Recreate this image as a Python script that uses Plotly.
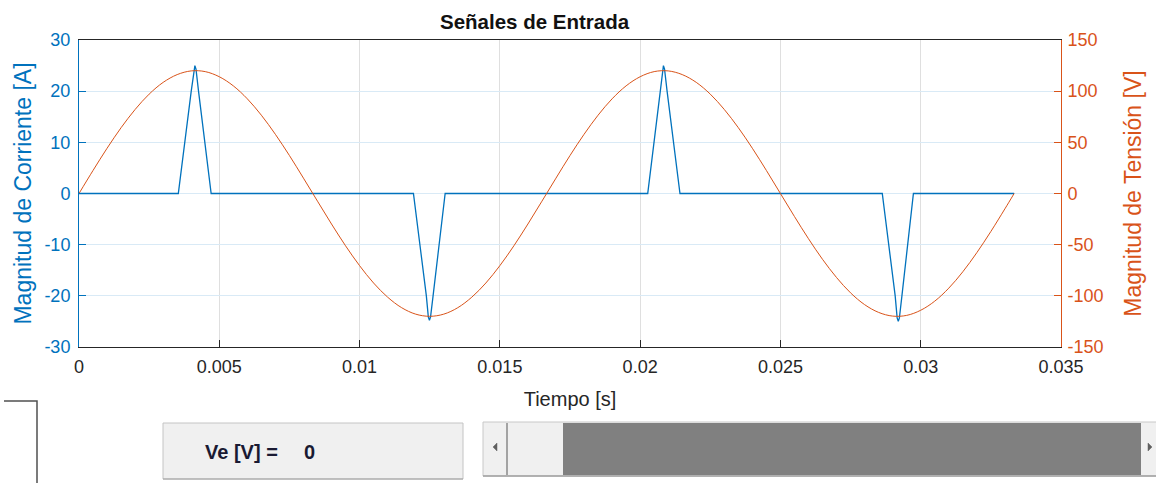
import plotly.graph_objects as go

# ---------------- data ----------------
# Voltage (V) sampled every 0.5 ms, plus final point at end of 2 cycles
v_step = 0.0005
v_values = [0, 22.5, 44.2, 64.3, 82.1, 97.1, 108.6, 116.2, 119.8, 119.1, 114.1,
            105.2, 92.5, 76.5, 57.8, 37.1, 15.0, -7.5, -29.8, -51.1, -70.5,
            -87.5, -101.3, -111.6, -117.9, -120.0, -117.9, -111.6, -101.3, -87.5,
            -70.5, -51.1, -29.8, -7.5, 15.0, 37.1, 57.8, 76.5, 92.5, 105.2, 114.1,
            119.1, 119.8, 116.2, 108.6, 97.1, 82.1, 64.3, 44.2, 22.5, 0.0, -22.5,
            -44.2, -64.3, -82.1, -97.1, -108.6, -116.2, -119.8, -119.1, -114.1,
            -105.2, -92.5, -76.5, -57.8, -37.1, -15.0]
v_end_time = 0.03333
v_end_value = 0.0
v_times = [i * v_step for i in range(len(v_values))] + [v_end_time]
v_all = v_values + [v_end_value]

# Current (A)
i_times = [0, 0.00354, 0.00400, 0.00409, 0.00413, 0.00417, 0.00426, 0.00471,
           0.01192, 0.01238, 0.01245, 0.01249, 0.01253, 0.01262, 0.01305,
           0.02027, 0.02072, 0.02079, 0.02083, 0.02087, 0.02096, 0.02142,
           0.02863, 0.02909, 0.02916, 0.02920, 0.02924, 0.02933, 0.02974,
           0.03333]
i_values = [0, 0, 20, 24.3, 25, 24.3, 20, 0,
            0, -20, -24.1, -24.8, -24.1, -20, 0,
            0, 20, 24.3, 25, 24.3, 20, 0,
            0, -20, -24.3, -25, -24.3, -20, 0,
            0]

x_tickvals = [0, 0.005, 0.01, 0.015, 0.02, 0.025, 0.03, 0.035]
x_ticktext = ["0", "0.005", "0.01", "0.015", "0.02", "0.025", "0.03", "0.035"]
yl_tickvals = [-30, -20, -10, 0, 10, 20, 30]
yl_ticktext = ["-30", "-20", "-10", "0", "10", "20", "30"]
yr_tickvals = [-150, -100, -50, 0, 50, 100, 150]
yr_ticktext = ["-150", "-100", "-50", "0", "50", "100", "150"]

title_text = "Señales de Entrada"
xlabel = "Tiempo [s]"
ylabel_left = "Magnitud de Corriente [A]"
ylabel_right = "Magnitud de Tensión [V]"
ve_label = "Ve [V] ="
ve_value = "0"

# ---------------- style ----------------
BLUE = "#0072BD"
ORANGE = "#D95319"
DARK = "#262626"
FONT = "Liberation Sans, Arial, sans-serif"

W, H = 1156, 483
L, R, T, B = 79, 1061, 40, 347


def px(x):
    return (x - L) / (R - L)


def py(y):
    return (B - y) / (B - T)


fig = go.Figure()
fig.add_trace(go.Scatter(x=i_times, y=i_values, mode="lines",
                         line=dict(color=BLUE, width=1.3), yaxis="y",
                         showlegend=False, hoverinfo="skip"))
fig.add_trace(go.Scatter(x=v_times, y=v_all, mode="lines",
                         line=dict(color=ORANGE, width=1, shape="spline"),
                         yaxis="y2", showlegend=False, hoverinfo="skip"))

shapes = []
# left partial box
shapes.append(dict(type="path", xref="paper", yref="paper",
                   path=f"M {px(4)} {py(401)} L {px(37)} {py(401)} L {px(37)} {py(484)}",
                   line=dict(color="#505050", width=1.5)))
# button
shapes.append(dict(type="rect", xref="paper", yref="paper",
                   x0=px(163), x1=px(463), y0=py(479), y1=py(423),
                   fillcolor="#F0F0F0", line=dict(color="#C4C4C4", width=1)))
shapes.append(dict(type="line", xref="paper", yref="paper",
                   x0=px(163), x1=px(463), y0=py(479), y1=py(479),
                   line=dict(color="#A0A0A0", width=1.2)))
# slider background
shapes.append(dict(type="rect", xref="paper", yref="paper",
                   x0=px(483), x1=px(1160), y0=py(476), y1=py(422),
                   fillcolor="#F0F0F0", line=dict(color="#C8C8C8", width=1)))
# trough
shapes.append(dict(type="rect", xref="paper", yref="paper",
                   x0=px(563), x1=px(1141), y0=py(475), y1=py(423),
                   fillcolor="#808080", line=dict(width=0)))
# left arrow divider
shapes.append(dict(type="line", xref="paper", yref="paper",
                   x0=px(507), x1=px(507), y0=py(475), y1=py(423),
                   line=dict(color="#707070", width=1.2)))
shapes.append(dict(type="line", xref="paper", yref="paper",
                   x0=px(483), x1=px(1160), y0=py(476), y1=py(476),
                   line=dict(color="#A0A0A0", width=1.5)))
# arrows
shapes.append(dict(type="path", xref="paper", yref="paper",
                   path=f"M {px(497)} {py(443)} L {px(493)} {py(447)} L {px(497)} {py(451)} Z",
                   fillcolor="#606060", line=dict(color="#606060", width=0.5)))
shapes.append(dict(type="path", xref="paper", yref="paper",
                   path=f"M {px(1148)} {py(443)} L {px(1152)} {py(447)} L {px(1148)} {py(451)} Z",
                   fillcolor="#606060", line=dict(color="#606060", width=0.5)))

annotations = [
    dict(text=f"<b>{title_text}</b>", xref="paper", yref="paper",
         x=px(535), y=py(22), showarrow=False, xanchor="center", yanchor="middle",
         font=dict(family=FONT, size=20.5, color="#111111")),
    dict(text=f"<b>{ve_label}</b>", xref="paper", yref="paper",
         x=px(203), y=py(452), showarrow=False, xanchor="left", yanchor="middle",
         font=dict(family=FONT, size=20, color="#1A1A33")),
    dict(text=f"<b>{ve_value}</b>", xref="paper", yref="paper",
         x=px(302), y=py(452), showarrow=False, xanchor="left", yanchor="middle",
         font=dict(family=FONT, size=20, color="#1A1A33")),
]

fig.update_layout(
    width=W, height=H,
    margin=dict(l=L, r=W - R, t=T, b=H - B, pad=0),
    paper_bgcolor="white", plot_bgcolor="white",
    font=dict(family=FONT, size=18, color=DARK),
    xaxis=dict(range=[0, 0.035], tickvals=x_tickvals, ticktext=x_ticktext,
               ticks="inside", ticklen=7, tickcolor=DARK, showline=True,
               linecolor=DARK, linewidth=1, mirror=True, showgrid=True,
               gridcolor="#DFDFDF", zeroline=False, ticklabelstandoff=3,
               tickfont=dict(family=FONT, size=18, color=DARK),
               title=dict(text=xlabel, font=dict(family=FONT, size=20, color=DARK),
                          standoff=16)),
    yaxis=dict(range=[-30, 30], tickvals=yl_tickvals, ticktext=yl_ticktext,
               ticks="inside", ticklen=7, ticklabelstandoff=4,
               tickcolor=BLUE, showline=True, linecolor=BLUE, linewidth=1,
               showgrid=True, gridcolor="#D9EAF6", zeroline=False,
               tickfont=dict(family=FONT, size=18, color=BLUE),
               title=dict(text=ylabel_left, font=dict(family=FONT, size=23, color=BLUE),
                          standoff=6)),
    yaxis2=dict(range=[-150, 150], tickvals=yr_tickvals, ticktext=yr_ticktext,
                overlaying="y", side="right", ticklabelstandoff=2,
                ticks="inside", ticklen=7, tickcolor=ORANGE, showline=True,
                linecolor=ORANGE, linewidth=1, showgrid=False, zeroline=False,
                tickfont=dict(family=FONT, size=18, color=ORANGE),
                title=dict(text=ylabel_right, font=dict(family=FONT, size=23, color=ORANGE),
                           standoff=22)),
    shapes=shapes,
    annotations=annotations,
)

fig.write_html("out.html", config={"displayModeBar": False},
               post_script="document.body.style.margin='0';document.body.style.padding='0';")
